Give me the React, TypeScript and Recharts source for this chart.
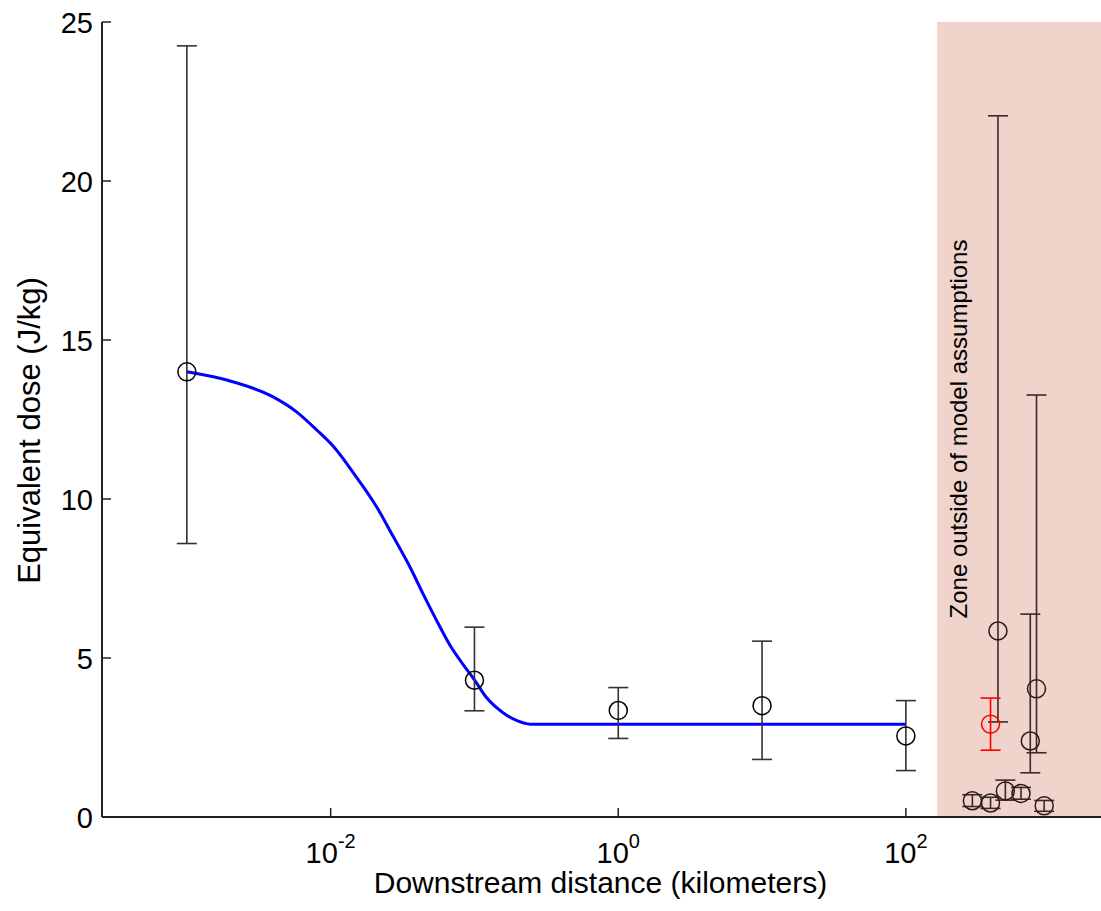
import React from 'react';
import { ComposedChart, Line, Scatter, XAxis, YAxis, ErrorBar, ReferenceArea } from 'recharts';

const FONT = '"Liberation Sans", Arial, Helvetica, sans-serif';

// axis ticks
const xTicks = [0.01, 1, 100];
const yTicks = [0, 5, 10, 15, 20, 25];

// measured sites (inside model zone)
const siteDistance = [0.001, 0.1, 1, 10, 100];
const siteDose = [14.0, 4.3, 3.35, 3.5, 2.55];
const siteLow = [8.6, 3.34, 2.47, 1.81, 1.46];
const siteHigh = [24.25, 5.97, 4.07, 5.53, 3.66];

// sites beyond the model assumptions
const zoneDistance = [290, 388, 437, 492, 632, 733, 810, 916];
const zoneDose = [0.51, 0.44, 5.85, 0.82, 0.74, 2.39, 4.03, 0.35];
const zoneLow = [0.33, 0.27, 2.99, 0.53, 0.56, 1.39, 2.02, 0.18];
const zoneHigh = [0.7, 0.62, 22.05, 1.16, 0.93, 6.38, 13.27, 0.52];

// highlighted site
const flaggedDistance = [388];
const flaggedDose = [2.92];
const flaggedLow = [2.1];
const flaggedHigh = [3.74];

// model curve
const modelDistance = [
  0.001, 0.00189, 0.00398, 0.00579, 0.008, 0.0105, 0.0145, 0.0209, 0.0273, 0.0356,
  0.0441, 0.055, 0.0676, 0.0832, 0.1, 0.12, 0.158, 0.1995, 0.244, 100,
];
const modelDose = [
  14.0, 13.74, 13.21, 12.74, 12.17, 11.64, 10.8, 9.75, 8.81, 7.86,
  7.0, 6.15, 5.4, 4.8, 4.31, 3.78, 3.28, 3.02, 2.92, 2.92,
];

const X_MIN = 2.57e-4;
const X_MAX = 2275;
const ZONE_START = 165;

const toPoints = (xs: number[], ys: number[], lo: number[], hi: number[]) =>
  xs.map((x, i) => ({ x, y: ys[i], err: [ys[i] - lo[i], hi[i] - ys[i]] }));

const siteData = toPoints(siteDistance, siteDose, siteLow, siteHigh);
const zoneData = toPoints(zoneDistance, zoneDose, zoneLow, zoneHigh);
const flaggedData = toPoints(flaggedDistance, flaggedDose, flaggedLow, flaggedHigh);
const modelData = modelDistance.map((x, i) => ({ x, y: modelDose[i] }));

const ringShape = (color: string) => (p: any) => (
  <circle cx={p.cx} cy={p.cy} r={9} fill="none" stroke={color} strokeWidth={1.5} />
);

const BottomTick = (props: any) => {
  const { x, y, payload } = props;
  const exp = Math.round(Math.log10(payload.value));
  return (
    <g>
      <line x1={x} x2={x} y1={y} y2={y - 9} stroke="#222" strokeWidth={1.5} />
      <text x={x} y={y + 46} textAnchor="middle" fontFamily={FONT} fontSize={29} fill="#000">
        10
        <tspan dy={-15} fontSize={20}>{exp < 0 ? `-${-exp}` : `${exp}`}</tspan>
      </text>
    </g>
  );
};

const TopTick = (props: any) => {
  const { x, y } = props;
  return <line x1={x} x2={x} y1={y} y2={y + 9} stroke="#222" strokeWidth={1.5} />;
};

const LeftTick = (props: any) => {
  const { x, y, payload } = props;
  return (
    <g>
      <line x1={x} x2={x + 9} y1={y} y2={y} stroke="#222" strokeWidth={1.5} />
      <text x={x - 9} y={y + 10.5} textAnchor="end" fontFamily={FONT} fontSize={29} fill="#000">
        {payload.value}
      </text>
    </g>
  );
};

const RightTick = (props: any) => {
  const { x, y } = props;
  return <line x1={x} x2={x - 9} y1={y} y2={y} stroke="#222" strokeWidth={1.5} />;
};

const yLabel = (p: any) => {
  const vb = p.viewBox;
  const cx = vb.x + 29;
  const cy = vb.y + vb.height / 2 + 11;
  return (
    <text x={cx} y={cy} transform={`rotate(-90 ${cx} ${cy})`} textAnchor="middle"
      dominantBaseline="central" fontFamily={FONT} fontSize={31} fill="#000">
      Equivalent dose (J/kg)
    </text>
  );
};

const xLabel = (p: any) => {
  const vb = p.viewBox;
  return (
    <text x={vb.x + vb.width / 2 - 1} y={vb.y + 76} textAnchor="middle"
      fontFamily={FONT} fontSize={30} fill="#000">
      Downstream distance (kilometers)
    </text>
  );
};

const zoneLabel = (p: any) => {
  const vb = p.viewBox;
  const cx = vb.x + 21;
  const cy = vb.y + vb.height / 2 + 9.5;
  return (
    <text x={cx} y={cy} transform={`rotate(-90 ${cx} ${cy})`} textAnchor="middle"
      dominantBaseline="central" fontFamily={FONT} fontSize={24} fill="#000">
      Zone outside of model assumptions
    </text>
  );
};

export default function App() {
  return (
    <div style={{ position: 'absolute', left: 0, top: 0, width: 1101, height: 911, overflow: 'hidden', background: '#fff' }}>
      <ComposedChart width={1101} height={911} margin={{ top: 22, right: 0, bottom: 0, left: 0 }}>
        <XAxis
          dataKey="x"
          type="number"
          scale="log"
          domain={[X_MIN, X_MAX]}
          allowDataOverflow
          ticks={xTicks}
          interval={0}
          height={94}
          tickSize={0}
          tickMargin={0}
          tickLine={false}
          tick={<BottomTick />}
          axisLine={{ stroke: '#222', strokeWidth: 2 }}
          label={{ content: xLabel }}
        />
        <XAxis
          xAxisId="top"
          orientation="top"
          dataKey="x"
          type="number"
          scale="log"
          domain={[X_MIN, X_MAX]}
          allowDataOverflow
          ticks={xTicks}
          interval={0}
          height={0}
          tickSize={0}
          tickMargin={0}
          tickLine={false}
          tick={<TopTick />}
          axisLine={{ stroke: '#222', strokeWidth: 2 }}
        />
        <YAxis
          dataKey="y"
          type="number"
          domain={[0, 25]}
          allowDataOverflow
          ticks={yTicks}
          interval={0}
          width={102}
          tickSize={0}
          tickMargin={0}
          tickLine={false}
          tick={<LeftTick />}
          axisLine={{ stroke: '#222', strokeWidth: 2 }}
          label={{ content: yLabel }}
        />
        <YAxis
          yAxisId="right"
          orientation="right"
          type="number"
          domain={[0, 25]}
          ticks={yTicks}
          interval={0}
          width={0}
          tickSize={0}
          tickMargin={0}
          tickLine={false}
          tick={<RightTick />}
          axisLine={false}
        />
        <ReferenceArea
          x1={ZONE_START}
          x2={X_MAX}
          y1={0}
          y2={25}
          fill="#f0d3cb"
          fillOpacity={1}
          stroke="none"
          label={{ content: zoneLabel }}
        />
        <Line
          data={modelData}
          dataKey="y"
          type="monotone"
          stroke="#0000ff"
          strokeWidth={3}
          dot={false}
          activeDot={false}
          isAnimationActive={false}
        />
        <Scatter data={siteData} shape={ringShape('#000')} isAnimationActive={false}>
          <ErrorBar dataKey="err" direction="y" width={10} stroke="#333" strokeWidth={1.6} isAnimationActive={false} />
        </Scatter>
        <Scatter data={zoneData} shape={ringShape('#2a1a16')} isAnimationActive={false}>
          <ErrorBar dataKey="err" direction="y" width={10} stroke="#3a2a26" strokeWidth={1.6} isAnimationActive={false} />
        </Scatter>
        <Scatter data={flaggedData} shape={ringShape('#ff0000')} isAnimationActive={false}>
          <ErrorBar dataKey="err" direction="y" width={10} stroke="#ff0000" strokeWidth={1.6} isAnimationActive={false} />
        </Scatter>
      </ComposedChart>
    </div>
  );
}
